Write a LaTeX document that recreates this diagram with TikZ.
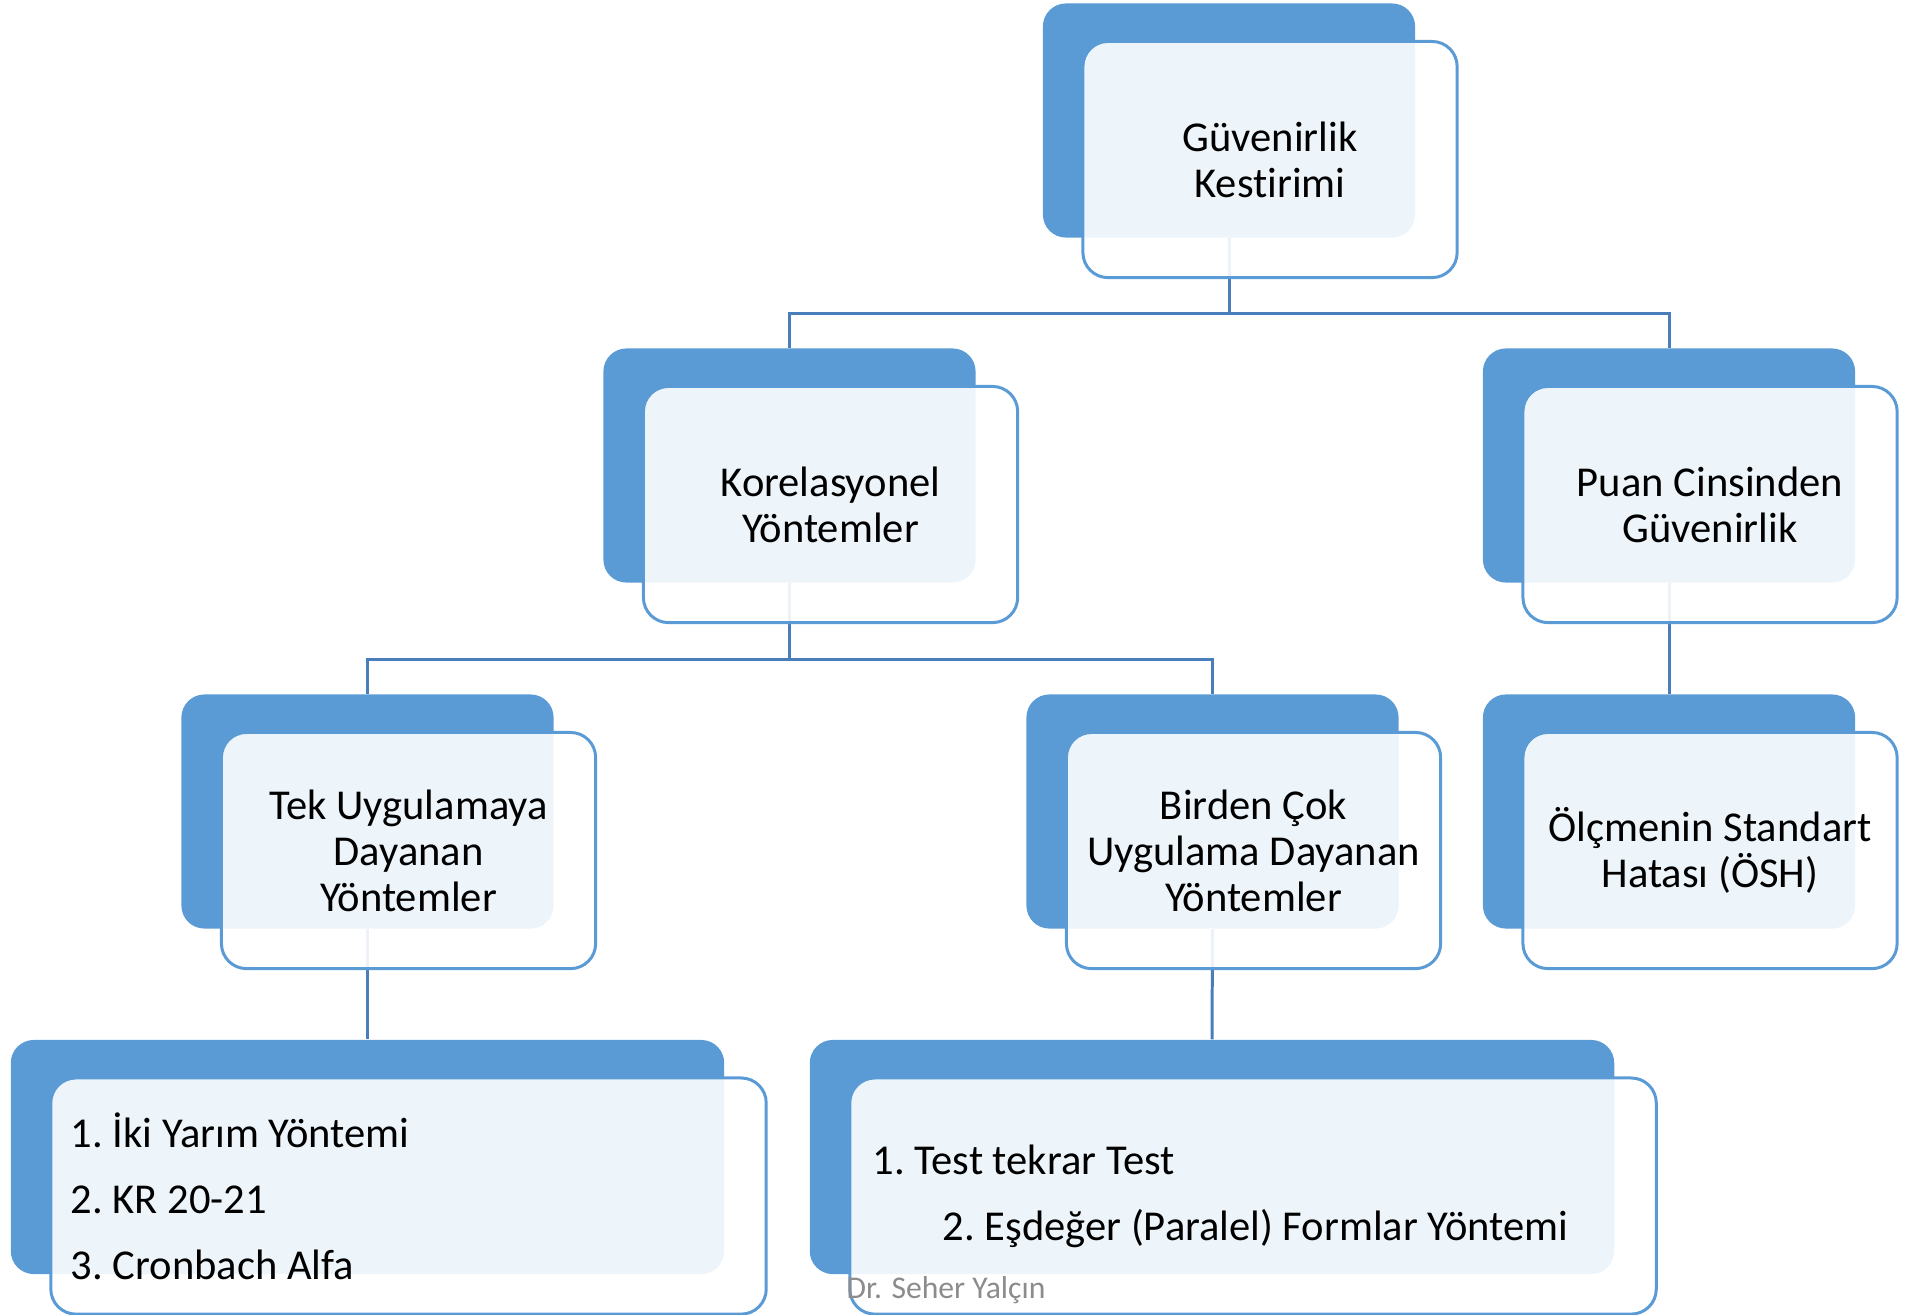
\documentclass[tikz,border=0pt]{standalone}
\usepackage{fontspec}
\setmainfont{Carlito}[Ligatures=NoCommon]
\usetikzlibrary{backgrounds}

\definecolor{mavi}{HTML}{5B9BD5}
\definecolor{cizgi}{HTML}{4A7EBB}
\definecolor{imza}{HTML}{8C8C8C}

\tikzset{
	arka/.style={rectangle, rounded corners=2.3mm, fill=mavi, inner sep=0pt,
		minimum width=3.72cm, minimum height=2.34cm},
	on/.style={rectangle, rounded corners=2.5mm, draw=mavi, line width=0.85pt,
		fill=white, fill opacity=0.9, text opacity=1, inner sep=0pt,
		minimum width=3.74cm, minimum height=2.36cm, align=center,
		xshift=4.1mm, yshift=-3.9mm, font=\fontsize{12.1}{13.1}\selectfont},
	liste/.style={on, align=flush left, font=\frenchspacing\fontsize{12.1}{18.8}\selectfont},
	baglanti/.style={draw=cizgi, line width=0.85pt}
}

\begin{document}
\begin{tikzpicture}[x=0.01cm, y=-0.01cm]
	
	\useasboundingbox (0,0) rectangle (1906,1314);
	
	% level 1
	\node[arka] (kestirim-b) at (1229,120.5) {};
	\node[on] (kestirim) at (kestirim-b) {Güvenirlik\\Kestirimi};
	
	% level 2
	\node[arka] (korel-b) at (789.5,465.5) {};
	\node[on] (korel) at (korel-b) {Korelasyonel\\Yöntemler};
	\node[arka] (puan-b) at (1669,465.5) {};
	\node[on] (puan) at (puan-b) {Puan Cinsinden\\Güvenirlik};
	
	% level 3
	\node[arka] (tek-b) at (367.5,811.5) {};
	\node[on] (tek) at (tek-b) {Tek Uygulamaya\\Dayanan\\Yöntemler};
	\node[arka] (birden-b) at (1212.5,811.5) {};
	\node[on] (birden) at (birden-b) {Birden Çok\\Uygulama Dayanan\\Yöntemler};
	\node[arka] (olcme-b) at (1669,811.5) {};
	\node[on] (olcme) at (olcme-b) {Ölçmenin Standart\\Hatası (ÖSH)};
	
	% level 4
	\node[arka, minimum width=7.13cm] (liste1-b) at (367.5,1157) {};
	\node[liste, minimum width=7.15cm, text width=6.75cm] (liste1) at (liste1-b)
	{1. İki Yarım Yöntemi\\2. KR 20-21\\3. Cronbach Alfa};
	\node[arka, minimum width=8.04cm] (liste2-b) at (1212,1157) {};
	\node[liste, minimum width=8.06cm, text width=7.6cm] (liste2) at (liste2-b)
	{1. Test tekrar Test\\\hspace*{7mm}2. Eşdeğer (Paralel) Formlar Yöntemi};
	
	% connectors
	\begin{scope}[on background layer]
		\draw[baglanti] (kestirim-b.south) -- ++(0,75) -| (korel-b.north);
		\draw[baglanti] (kestirim-b.south) -- ++(0,75) -| (puan-b.north);
		\draw[baglanti] (korel-b.south) -- ++(0,76) -| (tek-b.north);
		\draw[baglanti] (korel-b.south) -- ++(0,76) -| (birden-b.north);
		\draw[baglanti] (puan-b.south) -- (olcme-b.north);
		\draw[baglanti] (tek-b.south) -- (liste1-b.north);
		\draw[baglanti] (birden-b.south) -- (liste2-b.north);
	\end{scope}
	
	% signature
	\node[anchor=west, inner sep=0pt, text=imza, font=\fontsize{9}{10}\selectfont] (imza) at (846,1290) {Dr. Seher Yalçın};
	
\end{tikzpicture}
\end{document}
